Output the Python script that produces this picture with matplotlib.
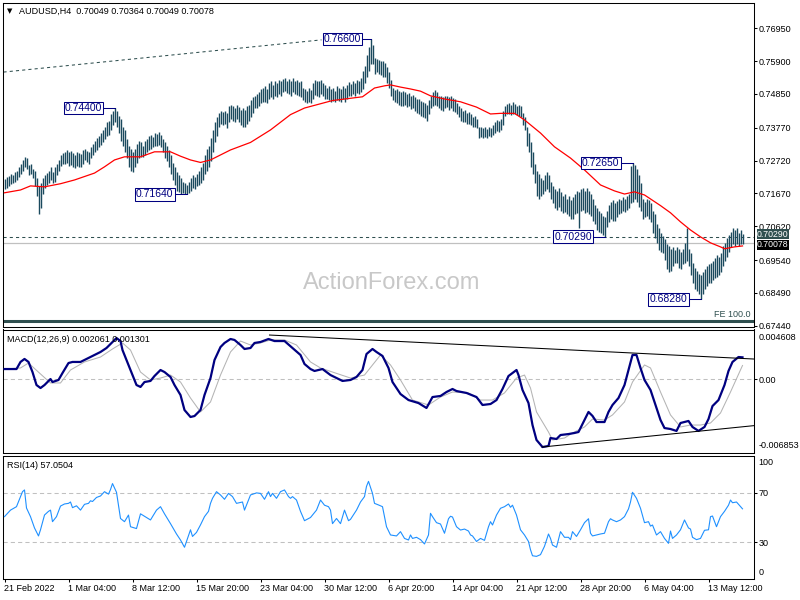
import matplotlib
matplotlib.use("Agg")
import matplotlib.pyplot as plt
from matplotlib import transforms
import numpy as np

plt.rcParams['font.family'] = ['Liberation Sans', 'DejaVu Sans']

W, H = 800, 600

header = 'AUDUSD,H4  0.70049 0.70364 0.70049 0.70078'

# H4 bar highs / lows, in pips (x 0.0001)
bar_high = [
    7212, 7218, 7222, 7228, 7226, 7235, 7240, 7250, 7262, 7275,
    7285, 7280, 7258, 7262, 7245, 7240, 7215, 7190, 7200, 7215,
    7225, 7232, 7240, 7250, 7235, 7250, 7262, 7275, 7290, 7296,
    7300, 7305, 7298, 7302, 7295, 7290, 7300, 7296, 7292, 7305,
    7310, 7302, 7300, 7315, 7325, 7335, 7345, 7350, 7360, 7370,
    7380, 7395, 7400, 7420, 7432, 7440, 7430, 7415, 7405, 7380,
    7370, 7340, 7320, 7310, 7300, 7310, 7325, 7335, 7330, 7320,
    7335, 7340, 7350, 7355, 7348, 7360, 7358, 7364, 7355, 7340,
    7330, 7320, 7305, 7290, 7265, 7250, 7235, 7225, 7215, 7205,
    7200, 7195, 7205, 7215, 7225, 7220, 7230, 7240, 7250, 7265,
    7290, 7310, 7320, 7345, 7370, 7395, 7410, 7425, 7430, 7428,
    7432, 7425, 7445, 7450, 7445, 7440, 7450, 7442, 7435, 7440,
    7435, 7445, 7450, 7465, 7475, 7480, 7485, 7490, 7500, 7505,
    7510, 7500, 7520, 7525, 7515, 7528, 7520, 7530, 7525, 7532,
    7535, 7528, 7532, 7525, 7535, 7528, 7530, 7522, 7525, 7505,
    7500, 7495, 7505, 7498, 7520, 7530, 7528, 7525, 7530, 7520,
    7515, 7505, 7510, 7500, 7505, 7495, 7510, 7505, 7500, 7510,
    7505, 7515, 7522, 7518, 7528, 7520, 7530, 7525, 7535, 7560,
    7575, 7610, 7635, 7660, 7640, 7600, 7598, 7595, 7590, 7592,
    7585, 7570, 7555, 7530, 7505, 7498, 7500, 7495, 7490, 7495,
    7490, 7485, 7488, 7480, 7482, 7475, 7470, 7468, 7462, 7460,
    7455, 7450, 7465, 7480, 7490, 7498, 7490, 7480, 7478, 7475,
    7478, 7480, 7475, 7478, 7472, 7470, 7455, 7445, 7440, 7430,
    7435, 7425, 7428, 7420, 7410, 7415, 7405, 7380, 7378, 7375,
    7378, 7372, 7380, 7375, 7385, 7395, 7402, 7398, 7405, 7430,
    7445, 7452, 7455, 7450, 7458, 7452, 7448, 7450, 7445, 7425,
    7410, 7380, 7360, 7330, 7300, 7260, 7240, 7230, 7215, 7210,
    7225, 7235, 7225, 7205, 7190, 7180, 7175, 7185, 7170, 7160,
    7165, 7150, 7158, 7145, 7155, 7165, 7175, 7170, 7180, 7185,
    7175, 7185, 7175, 7165, 7150, 7130, 7120, 7110, 7105, 7095,
    7090, 7110, 7130, 7140, 7145, 7135, 7142, 7150, 7145, 7155,
    7150, 7160, 7165, 7255, 7265, 7258, 7245, 7225, 7200, 7150,
    7140, 7150, 7145, 7135, 7110, 7100, 7070, 7055, 7040, 7030,
    7020, 7005, 7000, 6990, 6995, 6985, 6995, 6990, 6980, 6990,
    7010, 7055, 6990, 6975, 6945, 6930, 6920, 6910, 6905, 6915,
    6925, 6935, 6940, 6945, 6950, 6960, 6970, 6965, 6975, 7000,
    7010, 7025, 7035, 7045, 7055, 7050, 7055, 7040, 7050, 7036,
]
bar_low = [
    7180, 7185, 7190, 7196, 7200, 7205, 7210, 7220, 7230, 7240,
    7250, 7245, 7225, 7230, 7215, 7190, 7160, 7100, 7120, 7165,
    7185, 7195, 7200, 7210, 7200, 7205, 7225, 7240, 7255, 7262,
    7262, 7265, 7255, 7258, 7250, 7248, 7255, 7252, 7250, 7262,
    7275, 7268, 7262, 7280, 7290, 7300, 7305, 7315, 7322, 7330,
    7340, 7350, 7355, 7370, 7385, 7395, 7380, 7360, 7335, 7320,
    7300, 7280, 7250, 7240, 7235, 7250, 7265, 7280, 7285, 7285,
    7290, 7300, 7305, 7310, 7315, 7320, 7318, 7322, 7315, 7300,
    7280, 7270, 7250, 7230, 7210, 7195, 7175, 7170, 7165, 7168,
    7165, 7164, 7168, 7175, 7185, 7180, 7190, 7195, 7200, 7210,
    7230, 7240, 7250, 7270, 7300, 7330, 7350, 7380, 7390, 7385,
    7390, 7375, 7395, 7405, 7400, 7395, 7405, 7395, 7385, 7380,
    7380, 7390, 7398, 7410, 7425, 7440, 7440, 7445, 7455, 7460,
    7460, 7455, 7470, 7475, 7470, 7480, 7475, 7485, 7478, 7490,
    7495, 7488, 7486, 7480, 7492, 7485, 7482, 7478, 7475, 7465,
    7460, 7455, 7460, 7455, 7470, 7482, 7480, 7475, 7485, 7478,
    7470, 7470, 7465, 7460, 7462, 7458, 7465, 7462, 7460, 7468,
    7460, 7470, 7480, 7478, 7485, 7480, 7488, 7485, 7490, 7500,
    7520, 7540, 7560, 7580, 7580, 7550, 7555, 7550, 7545, 7540,
    7538, 7520, 7505, 7480, 7465, 7460, 7455, 7450, 7448, 7445,
    7450, 7442, 7445, 7438, 7440, 7430, 7425, 7420, 7415, 7410,
    7408, 7400, 7420, 7440, 7445, 7450, 7445, 7440, 7435, 7432,
    7440, 7442, 7435, 7440, 7430, 7428, 7420, 7410, 7400, 7395,
    7395, 7390, 7388, 7385, 7380, 7378, 7375, 7345, 7348, 7345,
    7348, 7344, 7350, 7348, 7355, 7360, 7365, 7362, 7370, 7385,
    7415, 7420, 7420, 7418, 7422, 7420, 7418, 7415, 7410, 7385,
    7370, 7320, 7300, 7250, 7230, 7200, 7160, 7150, 7160, 7165,
    7175, 7180, 7170, 7150, 7135, 7120, 7115, 7125, 7110, 7105,
    7108, 7100, 7095, 7085, 7085, 7100, 7105, 7055, 7110, 7115,
    7105, 7108, 7100, 7095, 7080, 7070, 7050, 7045, 7040, 7035,
    7029, 7060, 7075, 7085, 7080, 7078, 7090, 7100, 7105, 7110,
    7108, 7115, 7120, 7135, 7140, 7150, 7140, 7125, 7110, 7085,
    7090, 7095, 7085, 7075, 7040, 7025, 7010, 6985, 6980, 6975,
    6955, 6925, 6915, 6920, 6935, 6945, 6945, 6930, 6925, 6940,
    6945, 6950, 6935, 6905, 6880, 6860, 6855, 6845, 6828, 6845,
    6860, 6870, 6880, 6880, 6890, 6895, 6900, 6905, 6915, 6935,
    6950, 6965, 6980, 6995, 7005, 7000, 7005, 7000, 7005, 7005,
]

# moving average (red), read at some bars
ma_bar = [0, 8, 13, 20, 28, 35, 45, 50, 55, 60, 68, 75, 83, 88, 93, 98, 103,
          113, 123, 133, 143, 150, 164, 179, 185, 190, 193, 198, 203, 208,
          213, 220, 228, 236, 243, 248, 255, 260, 268, 275, 283, 290, 298,
          305, 310, 315, 320, 328, 333, 338, 343, 348, 353, 358, 360, 365, 369]
ma_val = [7169, 7178, 7191, 7188, 7198, 7210, 7232, 7252, 7274, 7284, 7284,
          7300, 7300, 7286, 7274, 7266, 7274, 7306, 7330, 7370, 7419, 7440,
          7464, 7476, 7504, 7511, 7514, 7507, 7501, 7494, 7479, 7469, 7460,
          7443, 7421, 7423, 7423, 7402, 7360, 7316, 7280, 7242, 7194, 7175,
          7165, 7172, 7162, 7128, 7105, 7076, 7050, 7028, 7009, 6996, 6990,
          6996, 6999]

date_labels = ['21 Feb 2022', '1 Mar 04:00', '8 Mar 12:00', '15 Mar 20:00',
               '23 Mar 04:00', '30 Mar 12:00', '6 Apr 20:00', '14 Apr 04:00',
               '21 Apr 12:00', '28 Apr 20:00', '6 May 04:00', '13 May 12:00']
date_bars = [0, 32, 64, 96, 128, 160, 192, 224, 256, 288, 320, 352]

price_ticks = [0.76950, 0.75900, 0.74850, 0.73770, 0.72720, 0.71670,
               0.70620, 0.69540, 0.68490, 0.67440]
level_line = 0.70290
bid = 0.70078
fe_level = 0.6760
fe_line_bar = [-0.5, 158.5]
fe_line_val = [0.7555, 0.7658]

swing_vals = [0.76600, 0.74400, 0.71640, 0.72650, 0.70290, 0.68280]
swing_bars = [183, 55, 91, 314, 300, 348]
swing_label_at = [169, 39.5, 75, 298, 284.3, 332]

# MACD(12,26,9), x 0.0001
macd_bar = [0, 6, 8, 10, 12, 14, 16, 18, 20, 23, 24, 27, 29, 32, 34, 38, 41,
            44, 48, 51, 54, 56, 58, 59, 61, 64, 66, 68, 70, 73, 75, 78, 80,
            83, 85, 88, 90, 93, 95, 98, 100, 103, 105, 108, 110, 113, 115,
            118, 120, 123, 125, 128, 132, 135, 140, 144, 148, 150, 153, 155,
            159, 163, 166, 169, 173, 176, 179, 181, 184, 186, 189, 192, 194,
            198, 202, 207, 211, 214, 218, 221, 224, 226, 231, 236, 239, 243,
            246, 249, 252, 254, 256, 257, 259, 262, 264, 266, 269, 272, 273,
            276, 278, 282, 285, 287, 290, 292, 294, 296, 300, 302, 304, 307,
            310, 312, 314, 316, 318, 320, 323, 326, 328, 330, 333, 336, 338,
            342, 344, 347, 350, 352, 354, 357, 360, 362, 364, 367, 369]
macd_val = [9.7, 9.7, 16.3, 19.1, 16.3, 6.9, -5.2, -8.0, -5.2, 0.4, -2.4,
            -0.5, 6.0, 15.3, 16.3, 16.3, 19.1, 21.9, 25.6, 29.3, 34.9, 38.6,
            35.8, 27.4, 18.1, 4.1, -5.2, -7.0, -2.4, -1.4, 3.2, 8.8, 6.9, 2.3,
            -5.2, -14.5, -28.5, -35.0, -34.1, -28.5, -14.5, 1.3, 18.1, 30.2,
            34.0, 37.7, 36.8, 32.1, 28.4, 29.3, 34.0, 34.9, 37.7, 35.8, 35.8,
            29.3, 22.8, 14.4, 9.7, 7.9, 9.7, 4.1, 1.3, -1.4, -0.5, 2.3, 8.8,
            23.7, 28.4, 25.6, 21.9, 10.7, -2.4, -13.6, -19.2, -22.0, -26.6,
            -16.4, -15.4, -11.7, -8.9, -10.8, -12.6, -16.4, -23.8, -22.9,
            -19.2, -8.9, 3.2, 6.0, 8.8, 4.1, -9.8, -22.0, -42.5, -56.4, -63.0,
            -62.0, -54.6, -55.5, -51.8, -50.9, -49.9, -49.0, -37.8, -30.3,
            -34.0, -39.7, -39.7, -30.3, -23.8, -17.3, -5.2, 8.8, 22.8, 22.8,
            10.7, -0.5, -9.8, -26.6, -37.8, -45.3, -46.2, -48.0, -40.6, -38.7,
            -44.3, -48.0, -44.3, -36.9, -24.8, -19.2, -5.2, 7.9, 16.3, 20.9,
            20.6]
sig_bar = [0, 8, 12, 18, 23, 28, 33, 40, 48, 54, 59, 63, 68, 73, 78, 83, 88,
           93, 98, 103, 108, 113, 118, 123, 128, 133, 140, 146, 153, 158, 164,
           173, 180, 188, 193, 198, 204, 212, 218, 224, 232, 238, 244, 250,
           256, 260, 263, 266, 272, 274, 280, 284, 290, 294, 300, 304, 310,
           314, 320, 323, 328, 333, 338, 343, 348, 353, 358, 363, 369]
sig_val = [9.7, 10.7, 15.3, 5.1, -3.3, -3.3, 8.8, 16.3, 20.9, 28.4, 34.0,
           27.4, 6.9, -0.5, 1.3, 4.1, -2.4, -17.3, -30.3, -21.0, 4.1, 25.6,
           35.8, 32.1, 34.0, 36.8, 36.8, 32.1, 16.3, 10.7, 6.9, 1.3, 4.1,
           22.8, 13.5, -0.5, -19.2, -23.8, -16.4, -11.7, -12.6, -19.2, -19.2,
           -12.6, 1.3, 4.1, -8.0, -30.3, -49.0, -56.4, -54.6, -49.9, -44.3,
           -36.9, -37.8, -33.1, -21.0, -2.4, 13.5, 10.7, -11.7, -33.1, -44.3,
           -42.5, -42.5, -40.6, -31.3, -11.7, 13.0]
macd_upper_bar = [132.5, 374.5]
macd_upper_val = [41.4, 19.05]
macd_lower_bar = [268.8, 374.5]
macd_lower_val = [-63.0, -43.1]

# RSI(14)
rsi_bar = [0, 3, 6, 7, 9, 10, 11, 13, 15, 17, 18, 20, 22, 23, 24, 26, 28, 30,
           32, 33, 34, 36, 38, 40, 42, 43, 44, 46, 48, 50, 52, 53, 54, 56, 58,
           60, 62, 63, 66, 68, 70, 73, 76, 78, 80, 83, 86, 88, 90, 93, 94, 96,
           98, 100, 102, 103, 104, 106, 108, 110, 112, 114, 116, 119, 120, 123,
           126, 128, 130, 132, 133, 134, 136, 138, 140, 142, 143, 144, 146,
           148, 150, 153, 156, 158, 160, 162, 163, 164, 166, 168, 170, 172,
           173, 176, 178, 180, 181, 182, 184, 185, 187, 189, 191, 193, 196,
           198, 200, 202, 203, 204, 206, 208, 210, 212, 213, 214, 216, 218,
           220, 222, 223, 224, 226, 228, 230, 232, 233, 234, 236, 238, 240,
           242, 243, 244, 246, 248, 250, 252, 253, 254, 256, 258, 260, 262,
           263, 264, 266, 268, 270, 272, 273, 274, 276, 278, 280, 282, 283,
           284, 286, 288, 290, 292, 293, 294, 296, 298, 300, 302, 303, 304,
           306, 308, 310, 312, 313, 314, 316, 318, 320, 322, 323, 324, 326,
           328, 330, 332, 333, 334, 336, 338, 340, 342, 343, 344, 346, 348,
           350, 352, 353, 354, 356, 358, 360, 362, 363, 364, 366, 369]
rsi_val = [50.7, 56, 58.8, 62.8, 71, 72.4, 57.7, 50.7, 41.5, 35, 40, 52, 55,
           56, 46.6, 50.7, 59.3, 61, 61.5, 62.6, 58, 59.5, 56, 60.7, 61.5,
           63.6, 63, 66.3, 67.5, 71, 69, 72.7, 77.6, 70.5, 49.2, 46.6, 52,
           42.5, 41, 53, 51, 48, 56, 58.8, 53, 45, 36.6, 31.7, 25.8, 40, 34.6,
           37.9, 44, 50.7, 55, 61.5, 65.6, 71, 68.3, 64.8, 69.6, 67, 61.5,
           62.6, 56, 68.3, 70, 69.6, 64.8, 71, 67, 69.6, 65.6, 71, 72.4, 67,
           65.6, 67, 64.2, 55, 47.4, 50, 56, 64.2, 60, 58.8, 56, 45, 49.2, 45,
           56, 47.4, 48.5, 56, 62.6, 67, 75.3, 79.4, 69.6, 61.5, 60.2, 58.8,
           42.5, 35.8, 35, 38.5, 33, 31.7, 35.8, 33, 33.9, 32, 28.5, 35.8,
           53.4, 50.7, 45.8, 44.7, 37.2, 49, 51, 50.4, 42.5, 39.8, 40.6, 39,
           35.8, 35, 30.5, 33, 31.4, 42.5, 46.6, 43.9, 52, 57.5, 58.8, 61,
           58.3, 60, 52, 40, 35.8, 30.5, 23.8, 18.9, 18.4, 19.8, 26.6, 36.6,
           33, 27.6, 25.8, 38.5, 33.9, 33.9, 32, 38.5, 34.6, 40, 45.8, 49,
           37.2, 35, 35.8, 36.6, 37.2, 46.6, 49, 48, 46.6, 48, 50.7, 57, 62.6,
           70.5, 65.6, 57.5, 45.8, 46.6, 43, 43.9, 35.8, 38.5, 33, 29, 39, 33,
           35.8, 40, 48, 41.5, 40.6, 33.9, 32, 33, 39.6, 40, 50.7, 51.2, 42.5,
           50.7, 55, 60, 64.2, 62, 62.6, 57.05]

fig = plt.figure(figsize=(W / 100, H / 100), dpi=100)
fig.patch.set_facecolor('white')


def panel(top, bottom):
    return fig.add_axes([3 / W, 1 - bottom / H, 751 / W, (bottom - top) / H])


ax = panel(3, 326.5)
axm = panel(329.5, 453)
axr = panel(456, 579)

for a in (ax, axm, axr):
    a.set_xlim(-0.75, 374.75)
    a.set_xticks([])
    a.yaxis.tick_right()
    a.tick_params(axis='y', direction='out', length=2.2, width=0.75,
                  labelsize=6.5, pad=1.2, colors='black')
    for s in a.spines.values():
        s.set_linewidth(0.75)
        s.set_color('black')

# ---- price panel
bars = np.arange(len(bar_high))
ax.vlines(bars, np.array(bar_low) / 1e4, np.array(bar_high) / 1e4,
          color='#1b4a5e', lw=1.0, zorder=3)
ax.plot(ma_bar, np.array(ma_val) / 1e4, color='#ff0000', lw=0.9, zorder=4)
ax.axhline(level_line, color='#2f4f4f', lw=0.75, ls=(0, (3, 3)), zorder=2)
ax.axhline(bid, color='#c0c0c0', lw=0.9, zorder=2)
ax.axhline(fe_level, color='#2f4f4f', lw=2.2, zorder=2)
ax.plot(fe_line_bar, fe_line_val, color='#2f4f4f', lw=0.75, ls=(0, (3, 3)), zorder=2)

for v, b, lb in zip(swing_vals, swing_bars, swing_label_at):
    ax.plot([lb, b], [v, v], color='#000080', lw=0.75, zorder=5)
    ax.text(lb, v, f'{v:.5f}', ha='center', va='center', fontsize=7.5,
            color='#000080', zorder=6,
            bbox=dict(boxstyle='square,pad=0.12', fc='white', ec='#000080', lw=0.75))

ax.set_ylim(0.67414, 0.77759)
ax.set_yticks(price_ticks)
ax.set_yticklabels([f'{p:.5f}' for p in price_ticks])

trans = transforms.blended_transform_factory(ax.transAxes, ax.transData)
for val, bg, dy in ((level_line, '#2f4f4f', 2.5), (bid, 'black', -1.5)):
    ax.annotate(f'{val:.5f}', xy=(1, val), xycoords=trans, xytext=(3, dy),
                textcoords='offset pixels', ha='left', va='center',
                fontsize=6.3, color='white', annotation_clip=False, zorder=7,
                bbox=dict(boxstyle='square,pad=0.05', fc=bg, ec='none'))

ax.annotate('FE 100.0', xy=(1, fe_level), xycoords=trans, xytext=(-3, 2),
            textcoords='offset pixels', ha='right', va='bottom', fontsize=6.5,
            color='#2f4f4f')
ax.text((392 - 3) / 751, 1 - (283 - 3) / 323.5, 'ActionForex.com', transform=ax.transAxes,
        fontsize=17, color='#c8c8c8', ha='center', va='center', zorder=1)

fig.text(10 / W, 1 - 11 / H, '\u25bc', fontsize=5, ha='center', va='center',
         family=['DejaVu Sans'])
fig.text(19 / W, 1 - 11 / H, header, fontsize=6.5, ha='left', va='center')

# ---- MACD panel
axm.plot(sig_bar, np.array(sig_val) / 1e4, color='#b4b4b4', lw=0.75, zorder=3)
axm.plot(macd_bar, np.array(macd_val) / 1e4, color='#000080', lw=1.6, zorder=4)
axm.axhline(0, color='#c0c0c0', lw=0.75, ls=(0, (4, 3)), zorder=2)
axm.plot(macd_upper_bar, np.array(macd_upper_val) / 1e4, color='black', lw=0.75, zorder=5)
axm.plot(macd_lower_bar, np.array(macd_lower_val) / 1e4, color='black', lw=0.75, zorder=5)
axm.set_ylim(-0.006856, 0.004655)
axm.set_yticks([0])
axm.set_yticklabels(['0.00'])
axm.annotate('0.004608', xy=(1, 1), xycoords='axes fraction', xytext=(4.7, -8.5),
             textcoords='offset pixels', ha='left', va='center', fontsize=6.5)
axm.annotate('-0.006853', xy=(1, 0), xycoords='axes fraction', xytext=(4.7, 7),
             textcoords='offset pixels', ha='left', va='center', fontsize=6.5)
fig.text(7 / W, 1 - 340 / H, 'MACD(12,26,9) 0.002061 0.001301', fontsize=6.5,
         ha='left', va='center')

# ---- RSI panel
axr.plot(rsi_bar, rsi_val, color='#1e90ff', lw=0.8, zorder=3)
for lvl in (70, 30):
    axr.axhline(lvl, color='#c0c0c0', lw=0.75, ls=(0, (4, 3)), zorder=2)
axr.set_ylim(0, 100)
axr.set_yticks([70, 30])
axr.set_yticklabels(['70', '30'])
axr.annotate('100', xy=(1, 1), xycoords='axes fraction', xytext=(4.7, -6.7),
             textcoords='offset pixels', ha='left', va='center', fontsize=6.5)
axr.annotate('0', xy=(1, 0), xycoords='axes fraction', xytext=(4.7, 6.3),
             textcoords='offset pixels', ha='left', va='center', fontsize=6.5)
fig.text(7 / W, 1 - 465 / H, 'RSI(14) 57.0504', fontsize=6.5, ha='left', va='center')

axr.set_xticks(date_bars)
axr.set_xticklabels(date_labels)
axr.tick_params(axis='x', direction='out', length=2.2, width=0.75, labelsize=6.5, pad=1.5)
for lab in axr.get_xticklabels():
    lab.set_horizontalalignment('left')

fig.savefig('out.png', dpi=100, facecolor='white')
